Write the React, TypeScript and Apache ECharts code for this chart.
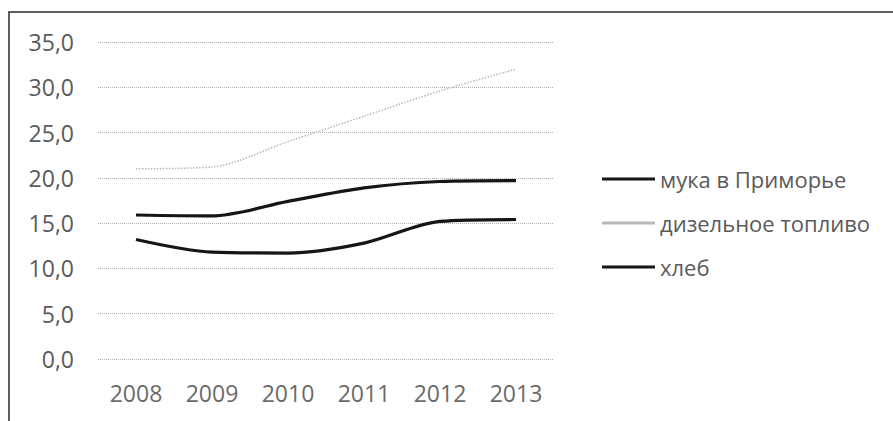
import React, { useEffect, useRef } from "react";
import * as echarts from "echarts";

const years = ["2008", "2009", "2010", "2011", "2012", "2013"];
const flourPrimorye = [15.9, 15.8, 17.4, 18.9, 19.6, 19.7];
const dieselFuel = [21.0, 21.2, 24.0, 26.8, 29.6, 32.0];
const bread = [13.2, 11.8, 11.7, 12.8, 15.2, 15.4];
const seriesNames = ["мука в Приморье", "дизельное топливо", "хлеб"];

const FONT = "'Open Sans', 'DejaVu Sans', sans-serif";
const DARK = "#151515";
const LIGHT = "#b8b8b8";

export default function App() {
  const ref = useRef<HTMLDivElement>(null);
  useEffect(() => {
    if (!ref.current) return;
    const chart = echarts.init(ref.current, null, { renderer: "svg" });
    chart.setOption({
      animation: false,
      backgroundColor: "#ffffff",
      graphic: [
        {
          type: "rect",
          shape: { x: 9, y: 12, width: 900, height: 430 },
          style: { fill: "none", stroke: "#2a2a2a", lineWidth: 1.5 },
          silent: true,
        },
      ],
      grid: { left: 98, right: 339, top: 42, bottom: 62 },
      legend: {
        orient: "vertical",
        left: 597,
        top: 163,
        itemWidth: 53,
        itemHeight: 3,
        itemGap: 22,
        icon: "rect",
        textStyle: {
          fontFamily: FONT,
          fontSize: 22,
          color: "#5a5a5a",
          lineHeight: 22,
        },
        data: [
          { name: seriesNames[0], itemStyle: { color: DARK } },
          { name: seriesNames[1], itemStyle: { color: LIGHT } },
          { name: seriesNames[2], itemStyle: { color: DARK } },
        ],
      },
      xAxis: {
        type: "category",
        data: years,
        boundaryGap: true,
        axisLine: { show: false },
        axisTick: { show: false },
        axisLabel: {
          fontFamily: FONT,
          fontSize: 23,
          color: "#6a6a6a",
          margin: 22,
        },
        splitLine: { show: false },
      },
      yAxis: {
        type: "value",
        min: 0,
        max: 35,
        interval: 5,
        axisLine: { show: false },
        axisTick: { show: false },
        axisLabel: {
          fontFamily: FONT,
          fontSize: 23,
          color: "#5a5a5a",
          margin: 24,
          formatter: (v: number) => v.toFixed(1).replace(".", ","),
        },
        splitLine: {
          show: true,
          lineStyle: { color: "#b0b0b0", type: "dotted", width: 1 },
        },
      },
      series: [
        {
          name: seriesNames[0],
          type: "line",
          data: flourPrimorye,
          smooth: 0.3,
          symbol: "none",
          lineStyle: { color: DARK, width: 3.2 },
          itemStyle: { color: DARK },
        },
        {
          name: seriesNames[1],
          type: "line",
          data: dieselFuel,
          smooth: 0.3,
          symbol: "none",
          lineStyle: { color: LIGHT, width: 1.5, type: "dotted" },
          itemStyle: { color: LIGHT },
        },
        {
          name: seriesNames[2],
          type: "line",
          data: bread,
          smooth: 0.3,
          symbol: "none",
          lineStyle: { color: DARK, width: 3.2 },
          itemStyle: { color: DARK },
        },
      ],
    });
    return () => chart.dispose();
  }, []);
  return (
    <div
      ref={ref}
      style={{ position: "absolute", left: 0, top: 0, width: 893, height: 421 }}
    />
  );
}
